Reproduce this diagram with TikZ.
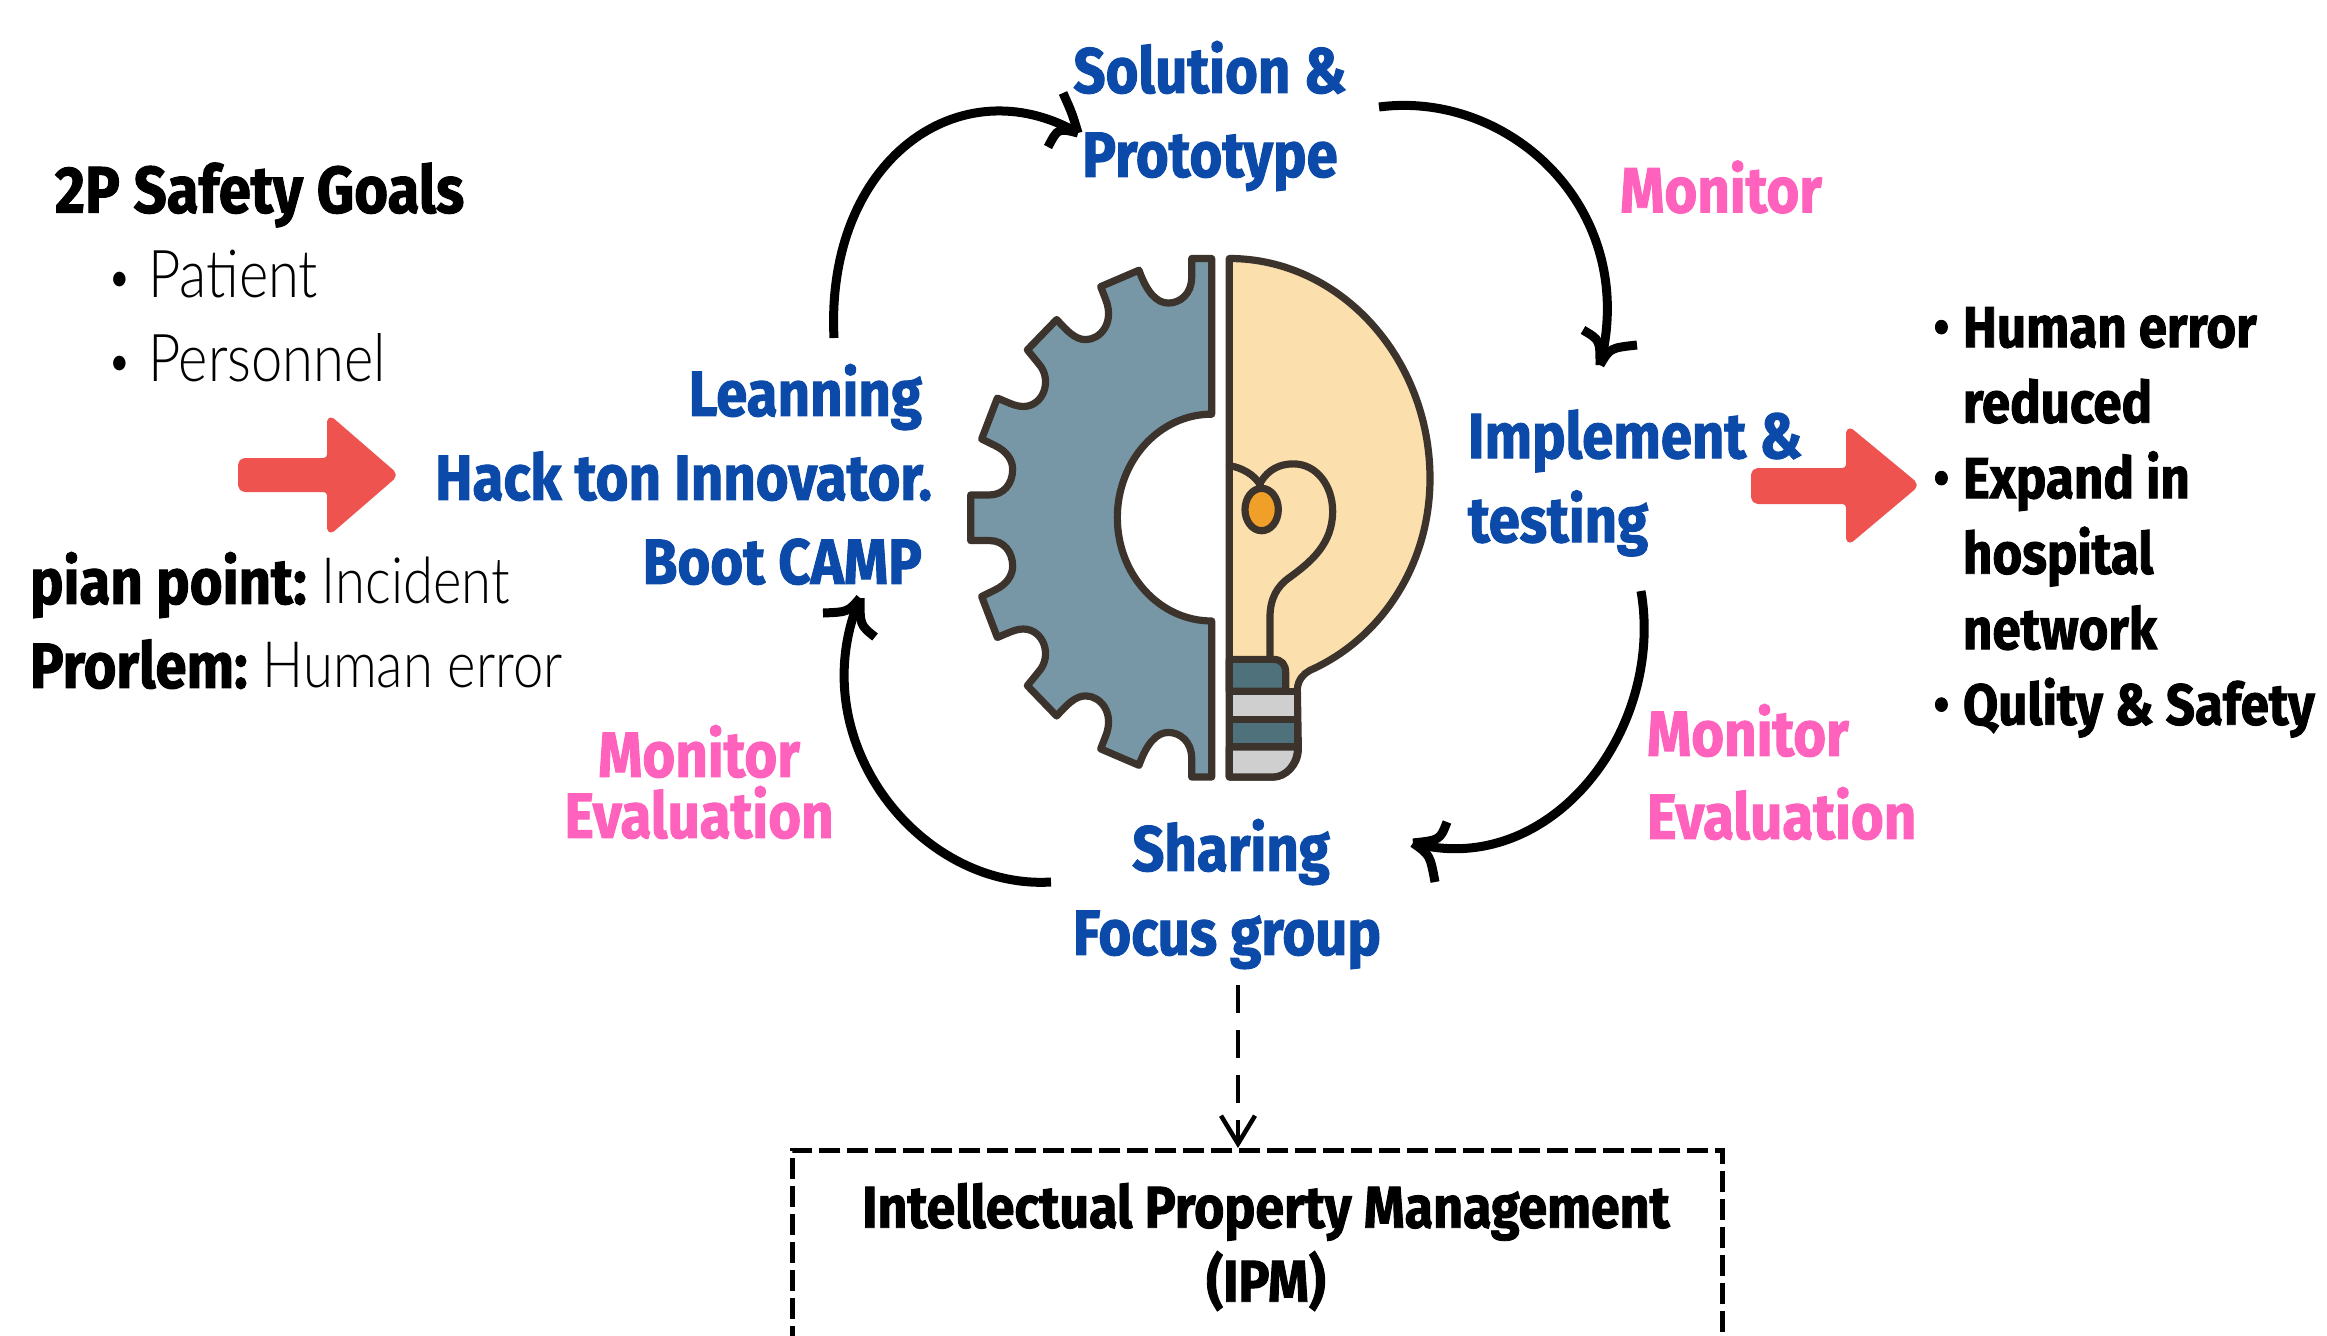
\documentclass[tikz,border=0pt]{standalone}
\usepackage{fontspec}
\usetikzlibrary{arrows.meta}
\newfontfamily\hdfont[FakeStretch=0.88,BoldFeatures={FakeBold=1.5}]{Fira Sans}
\newfontfamily\ltfont[FakeStretch=0.85]{Lato Light}
\newcommand{\smallbul}[1]{\llap{\raisebox{3pt}{\fontsize{50}{50}\selectfont\textbullet}\hspace{#1}}}
\definecolor{txtblue}{HTML}{0B4AA8}
\definecolor{txtpink}{HTML}{FF62BC}
\definecolor{redarr}{HTML}{EE5350}
\definecolor{gearc}{HTML}{7897A6}
\definecolor{bulbc}{HTML}{FBE0AE}
\definecolor{inkc}{HTML}{3C342C}
\definecolor{orangec}{HTML}{F0A028}
\definecolor{basec}{HTML}{4F717B}
\definecolor{greyc}{HTML}{CFCFCF}
\tikzset{
 base txt/.style={inner sep=0pt,outer sep=0pt,font=\hdfont\bfseries\fontsize{64}{84}\selectfont},
 bluetxt/.style={base txt,text=txtblue},
 pinktxt/.style={base txt,text=txtpink,font=\hdfont\bfseries\fontsize{64}{61}\selectfont},
 blacktxt/.style={base txt,text=black},
 lighttxt/.style={inner sep=0pt,outer sep=0pt,font=\ltfont\fontsize{66}{84}\selectfont},
 cyc/.style={draw=black,line width=9pt},
 barb/.style={draw=black,line width=9pt,line cap=butt,line join=miter},
 redblock/.style={fill=redarr,draw=redarr,line width=4pt,line join=round,rounded corners=5pt},
 ink/.style={draw=inkc,line width=7.2pt,line join=round,line cap=round},
}
\begin{document}
\begin{tikzpicture}[x=1pt,y=-1pt]
\useasboundingbox (0,0) rectangle (2327,1336);
\fill[white] (0,0) rectangle (2327,1336);
% gear + bulb
\begin{scope}[shift={(940,230)},x=0.33333pt,y=-0.3654pt]
\draw[ink,fill=gearc] (815,78) -- (755,78) -- (755,130) .. controls (755,175) and (720,200) .. (685,200) .. controls (650,200) and (620,170) .. (597,110) -- (482,155) -- (497,190) .. controls (525,255) and (480,300) .. (437,300) .. controls (405,300) and (380,275) .. (350,245) -- (262,328) -- (295,365) .. controls (340,410) and (310,483) .. (250,483) .. controls (225,483) and (200,470) .. (172,460) -- (125,572) -- (165,590) .. controls (200,605) and (218,630) .. (218,655) .. controls (218,695) and (190,725) .. (150,725) -- (92,725) -- (92,850) -- (150,850) .. controls (190,850) and (218,880) .. (218,920) .. controls (218,945) and (200,970) .. (165,985) -- (125,1003) -- (172,1115) .. controls (200,1105) and (225,1092) .. (250,1092) .. controls (310,1092) and (340,1165) .. (295,1210) -- (262,1247) -- (350,1330) .. controls (380,1300) and (405,1275) .. (437,1275) .. controls (480,1275) and (525,1320) .. (497,1385) -- (482,1420) -- (597,1465) .. controls (620,1405) and (650,1375) .. (685,1375) .. controls (720,1375) and (755,1400) .. (755,1445) -- (755,1497) -- (815,1497) -- (815,1070) arc[start angle=90,end angle=270,radius=283] -- cycle;
% bulb
\draw[ink,fill=bulbc] (868,78) .. controls (1200,78) and (1470,350) .. (1470,680) .. controls (1470,920) and (1320,1120) .. (1110,1205) .. controls (1090,1215) and (1075,1230) .. (1072,1255) -- (1075,1420) .. controls (1075,1465) and (1035,1497) .. (1000,1497) -- (868,1497) -- cycle;
\draw[ink,fill=basec] (868,1175) -- (1000,1175) .. controls (1025,1175) and (1037,1190) .. (1037,1210) -- (1037,1262) -- (868,1262) -- cycle;
\draw[ink,fill=greyc] (868,1262) -- (1073,1262) -- (1073,1340) -- (868,1340) -- cycle;
\draw[ink,fill=basec] (868,1340) -- (1073,1340) -- (1073,1415) -- (868,1415) -- cycle;
\draw[ink,fill=greyc] (868,1415) -- (1073,1415) .. controls (1073,1465) and (1035,1497) .. (1000,1497) -- (868,1497) -- cycle;
\draw[ink] (868,645) .. controls (905,650) and (945,670) .. (962,700);
\draw[ink] (962,690) .. controls (985,655) and (1020,640) .. (1060,640) .. controls (1130,640) and (1178,700) .. (1178,770) .. controls (1178,860) and (1110,910) .. (1050,950) .. controls (1010,975) and (990,1010) .. (990,1060) -- (990,1175);
\draw[ink,fill=orangec] (965,765) ellipse [x radius=50,y radius=58];
\end{scope}
% red arrows
\path[redblock] (240,460) -- (329,460) -- (329,417) -- (396,475) -- (329,533) -- (329,490) -- (240,490) -- cycle;
\path[redblock] (1753,470) -- (1848,470) -- (1848,428) -- (1917,485) -- (1848,543) -- (1848,502) -- (1753,502) -- cycle;
% left text
\node[blacktxt,anchor=west,font=\hdfont\bfseries\fontsize{66}{84}\selectfont] (goals) at (55,195) {2P Safety Goals};
\node[lighttxt,anchor=north west,align=left] (plist) at (148,250) {\smallbul{16pt}Patient\\\smallbul{16pt}Personnel};
\node[blacktxt,anchor=north west,align=left,font=\hdfont\fontsize{64}{84}\selectfont] (pain) at (30,552) {\textbf{pian point:}\hspace{-5pt} {\ltfont Incident}\\\textbf{Prorlem:}\hspace{-5pt} {\ltfont Human error}};
% cycle labels
\node[bluetxt,anchor=north east,align=right] (learn) at (932,364) {Leanning\hspace*{10pt}\\Hack ton Innovator.\\Boot CAMP\hspace*{10pt}};
\node[bluetxt,align=center] (sol) at (1210,116) {Solution \&\\Prototype};
\node[bluetxt,anchor=west,align=left] (impl) at (1468,483) {Implement \&\\testing};
\node[bluetxt,align=center] (share) at (1227,894) {\hspace*{8pt}Sharing\\Focus group};
\node[pinktxt] (mon1) at (1721,187) {Monitor};
\node[pinktxt,align=center] (mon2) at (699,782) {Monitor\\Evaluation};
\node[pinktxt,anchor=west,align=left,font=\hdfont\bfseries\fontsize{64}{83}\selectfont] (mon3) at (1647,772) {Monitor\\Evaluation};
% right list
\node[blacktxt,anchor=north west,align=left,font=\hdfont\bfseries\fontsize{58}{75.5}\selectfont] (res) at (1963,307) {\smallbul{14pt}Human error\\reduced\\\smallbul{14pt}Expand in\\hospital\\network\\\smallbul{14pt}Qulity \& Safety};
% cycle arrows
\coordinate (a1s) at (834,338); \coordinate (a1e) at (1078,133);
\coordinate (a2s) at (1379,107); \coordinate (a2e) at (1600,365);
\coordinate (a3s) at (1641,591); \coordinate (a3e) at (1413,843);
\coordinate (a4s) at (1051,882); \coordinate (a4e) at (860,598);
\draw[cyc] (a1s) .. controls (825,160) and (960,65) .. (a1e);
\draw[barb] (1063,93) .. controls (1072,113) .. (a1e);
\draw[barb] (1048,147) .. controls (1058,128) .. (a1e);
\draw[cyc] (a2s) .. controls (1510,90) and (1640,210) .. (a2e);
\draw[barb] (1583,330) .. controls (1600,340) .. (a2e);
\draw[barb] (1637,345) .. controls (1610,348) .. (a2e);
\draw[cyc] (a3s) .. controls (1665,730) and (1550,880) .. (a3e);
\draw[barb] (1447,822) .. controls (1440,840) .. (a3e);
\draw[barb] (1435,882) .. controls (1430,855) .. (a3e);
\draw[cyc] (a4s) .. controls (920,890) and (800,740) .. (a4e);
\draw[barb] (823,613) .. controls (848,612) .. (a4e);
\draw[barb] (875,637) .. controls (860,625) .. (a4e);
% IPM
\node[draw=black,line width=4.5pt,dash pattern=on 21pt off 7pt,anchor=north west,minimum width=930pt,minimum height=260pt,inner sep=0pt] (ipmbox) at (790,1148) {};
\node[blacktxt,align=center,font=\hdfont\bfseries\fontsize{59}{74}\selectfont] (ipm) at (1266,1247) {Intellectual Property Management\\(IPM)};
\coordinate (dashs) at (1238,985);
\draw[line width=4pt,dash pattern=on 28pt off 17pt,-{Straight Barb[length=28pt,width=34pt,line width=4.5pt]}] (dashs) -- (dashs |- ipmbox.north);
\end{tikzpicture}
\end{document}
